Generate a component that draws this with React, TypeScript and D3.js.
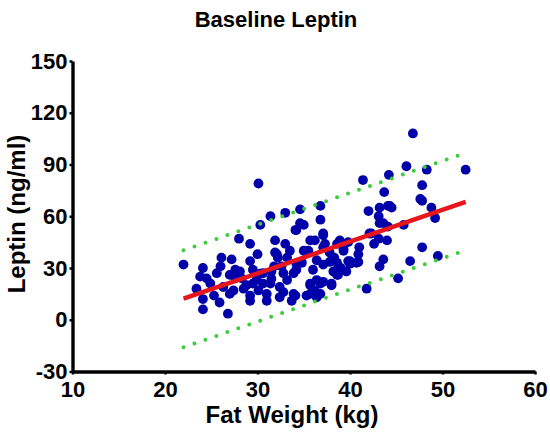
import React, { useEffect, useRef } from 'react';
import * as d3 from 'd3';

// scatter: fat weight (kg) vs leptin (ng/ml)
const fatWeight = [
  22.0, 23.4, 24.1, 24.1, 24.1, 24.5, 24.9, 25.9, 26.1, 26.3, 26.8, 27.0, 27.0, 27.2, 27.4, 27.6,
  28.0, 28.1, 28.5, 28.8, 29.2, 29.2, 29.2, 29.5, 29.5, 29.9, 30.1, 30.1, 30.3, 30.6, 30.6, 31.0,
  31.0, 31.4, 31.4, 31.5, 31.9, 31.9, 32.1, 32.2, 32.4, 32.4, 32.8, 32.8, 33.0, 33.0, 33.2, 33.2,
  33.7, 33.9, 33.9, 34.1, 34.1, 34.2, 34.6, 34.6, 35.0, 35.0, 35.3, 35.5, 35.7, 35.7, 35.7, 36.2,
  36.2, 36.4, 36.4, 36.8, 36.8, 36.8, 37.1, 37.1, 37.1, 37.3, 37.8, 38.0, 38.2, 38.6, 38.6, 38.7,
  38.9, 39.3, 39.6, 39.8, 40.0, 40.7, 40.9, 41.4, 41.8, 42.0, 42.3, 43.1, 43.1, 43.2, 43.2, 43.6,
  43.6, 43.7, 44.0, 44.1, 44.2, 44.3, 45.2, 46.1, 46.5, 46.8, 47.6, 47.8, 47.8, 47.8, 48.3, 48.8,
  49.2, 49.5, 52.5, 37.1, 37.1, 34.2, 34.2, 40.9, 39.8, 44.1, 36.4, 37.8, 30.3, 31.5, 35.7, 36.8,
  29.2, 42.1, 39.3, 35.3, 38.0, 38.6, 44.5, 43.2, 40.0, 27.6, 26.0, 25.3, 28.3, 30.0, 32.6, 33.5,
  34.8, 36.0, 38.3, 39.0, 41.0, 42.6, 45.8, 23.8, 25.6, 31.8,
];
const leptin = [
  32, 18, 30, 12, 6, 24, 21, 10, 36, 19, 3.5, 26, 15, 35, 17, 29,
  47, 28, 18, 20, 44, 34, 14, 29, 21, 23, 79, 17, 55, 27, 21, 11,
  15, 60, 21, 28, 46, 39, 38, 36, 19, 13, 27, 16, 62, 44, 36, 23,
  11, 15, 27, 52, 14, 29, 64, 56, 55, 40, 14, 40, 46, 21, 20, 46,
  17, 23, 13, 66, 58, 21, 49, 42, 32, 44, 39, 20, 28, 44, 33, 26,
  46, 40, 28, 34, 34, 33, 38, 81, 18, 63, 50, 60, 47, 65, 31, 56,
  35, 74, 46, 66, 84, 66, 24, 89, 34, 108, 70, 78, 69, 42, 87, 65,
  59, 37, 87, 50, 22, 32.5, 52, 33.5, 45, 54, 34.5, 33.5, 26.7, 23.8, 15, 15,
  11, 50, 41, 39, 21, 26, 65, 56, 32.5, 24, 31, 14, 24, 38, 31, 40,
  33, 29, 36, 30, 42, 44, 55, 25, 27, 31,
];

// linear fit and 95% prediction band
const fitX = [22, 52.5];
const fitY = [12.2, 68.3];
const bandX = [22, 37, 52];
const bandUpper = [40.3, 68, 95.8];
const bandLower = [-16, 12, 39.3];

const xTicks = [10, 20, 30, 40, 50, 60];
const yTicks = [-30, 0, 30, 60, 90, 120, 150];

export default function App() {
  const ref = useRef<SVGSVGElement>(null);

  useEffect(() => {
    const svg = d3.select(ref.current);
    svg.selectAll('*').remove();
    const font = '"Liberation Sans", Arial, sans-serif';

    const x = d3.scaleLinear().domain([10, 60]).range([72.5, 535]);
    const y = d3.scaleLinear().domain([-30, 150]).range([371.5, 61]);

    // points
    svg.append('g')
      .selectAll('circle')
      .data(fatWeight.map((d, i) => [d, leptin[i]]))
      .enter()
      .append('circle')
      .attr('cx', d => x(d[0]))
      .attr('cy', d => y(d[1]))
      .attr('r', 4.9)
      .attr('fill', '#0000aa');

    const line = d3.line<number>().x((d, i) => x(bandX[i]));
    [bandUpper, bandLower].forEach(b => {
      svg.append('path')
        .attr('d', line.y(d => y(d))(b))
        .attr('fill', 'none')
        .attr('stroke', '#3ccc3c')
        .attr('stroke-width', 4)
        .attr('stroke-linecap', 'round')
        .attr('stroke-dasharray', '0,11.6');
    });

    svg.append('path')
      .attr('d', d3.line<number>().x(d => x(d)).y((d, i) => y(fitY[i]))(fitX))
      .attr('stroke', '#e8161c')
      .attr('stroke-width', 4.5)
      .attr('fill', 'none');

    // axes
    const gx = svg.append('g')
      .attr('transform', 'translate(0,371.5)')
      .call(d3.axisBottom(x).tickValues(xTicks).tickFormat(d => String(d))
        .tickSize(3).tickSizeOuter(0).tickPadding(7));
    const gy = svg.append('g')
      .attr('transform', 'translate(72.5,0)')
      .call(d3.axisLeft(y).tickValues(yTicks).tickFormat(d => String(d))
        .tickSize(3).tickSizeOuter(0).tickPadding(2));
    [gx, gy].forEach(g => {
      g.select('.domain').attr('stroke', '#000').attr('stroke-width', 3.4);
      g.selectAll('.tick line').attr('stroke', '#000').attr('stroke-width', 2.5);
      g.selectAll('.tick text')
        .attr('fill', '#000')
        .style('font-family', font)
        .style('font-weight', 'bold')
        .style('font-size', '22px');
    });

    svg.append('text')
      .attr('x', 276).attr('y', 27)
      .attr('text-anchor', 'middle')
      .style('font-family', font).style('font-weight', 'bold').style('font-size', '22px')
      .text('Baseline Leptin');
    svg.append('text')
      .attr('x', 292).attr('y', 423)
      .attr('text-anchor', 'middle')
      .style('font-family', font).style('font-weight', 'bold').style('font-size', '24px')
      .text('Fat Weight (kg)');
    svg.append('text')
      .attr('transform', 'translate(25,214)rotate(-90)')
      .attr('text-anchor', 'middle')
      .style('font-family', font).style('font-weight', 'bold').style('font-size', '24px')
      .text('Leptin (ng/ml)');
  }, []);

  return (
    <div style={{ position: 'absolute', left: 0, top: 0 }}>
      <svg ref={ref} width={550} height={439} style={{ display: 'block', background: '#fff' }} />
    </div>
  );
}
